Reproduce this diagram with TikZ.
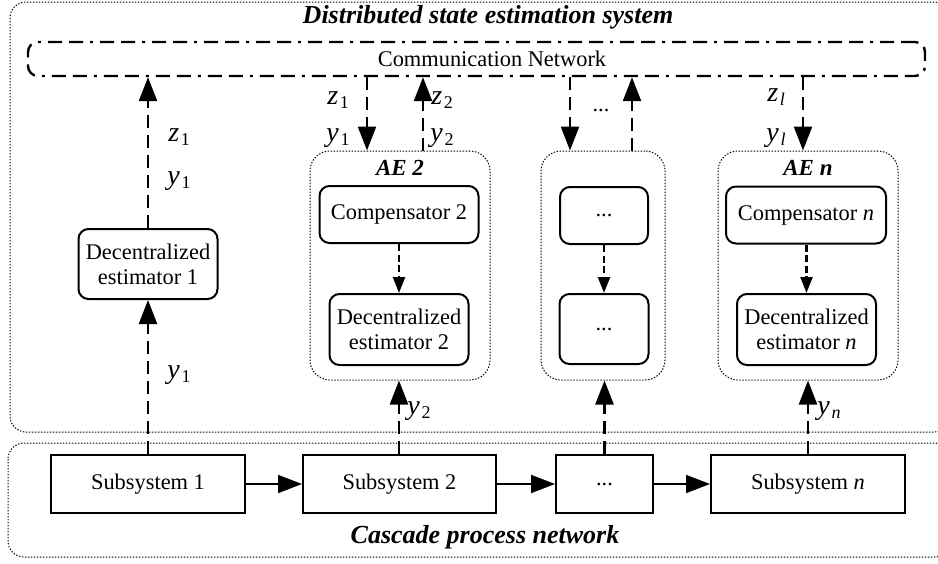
\documentclass[tikz,border=0pt]{standalone}
\usepackage{fontspec}
\setmainfont{Liberation Serif}
\usetikzlibrary{arrows.meta}
\newcommand{\lbl}[2]{{\fontsize{14}{16}\selectfont\itshape #1}\kern0.8pt\raisebox{-0.45ex}{\fontsize{9}{10}\selectfont #2}}
\begin{document}
\begin{tikzpicture}[x=0.5pt,y=-0.5pt,
  txt/.style={font=\fontsize{11.2}{12.6}\selectfont},
  blk/.style={draw,line width=1pt,rounded corners=5pt,align=center,inner sep=1pt,txt},
  subb/.style={draw,line width=1pt,align=center,inner sep=1pt,txt},
  cont/.style={draw,line width=0.5pt,dash pattern=on 0.7pt off 0.8pt,rounded corners=10pt,inner sep=0pt},
  ttl/.style={font=\fontsize{13}{15}\selectfont\bfseries\itshape},
  aet/.style={font=\fontsize{11.5}{13}\selectfont\bfseries\itshape},
  darrow/.style={line width=1.2pt,dash pattern=on 6.5pt off 3.5pt,-{Triangle[length=12pt,width=9pt]}},
  sarrow/.style={line width=1.2pt,dash pattern=on 3.5pt off 1.8pt,-{Triangle[length=8pt,width=6pt]}},
  harrow/.style={line width=1pt,-{Triangle[length=12pt,width=9pt]}},
  lab/.style={inner sep=0pt}]
\useasboundingbox (0,0) rectangle (938,563);
\clip (0,0) rectangle (938,563);
% outer containers
\draw[cont,rounded corners=8pt] (10,2) rectangle (950,432);
\draw[cont,rounded corners=8pt] (8,443) rectangle (950,557);
\node[ttl] (t1) at (488,17) {Distributed state estimation system};
\node[ttl] (t2) at (485,537) {Cascade process network};
% communication network
\node[draw,line width=1.2pt,rounded corners=5pt,dash pattern=on 7pt off 3.5pt on 7pt off 3.5pt on 1.5pt off 3.5pt,
  minimum width=448.5pt,minimum height=17pt,inner sep=0pt] (cn) at (476.5,59) {};
\node[txt] (cnt) at (492,59) {Communication Network};
% AE containers
\node[cont,minimum width=90pt,minimum height=114.5pt] (ae2) at (400,265.5) {};
\node[cont,minimum width=62pt,minimum height=114.5pt] (ae3) at (603,265.5) {};
\node[cont,minimum width=90pt,minimum height=114.5pt] (aen) at (808,265.5) {};
\node[aet] (ae2t) at (400,168) {AE 2};
\node[aet] (aent) at (808,168) {AE \textit{n}};
% estimator 1
\node[blk,minimum width=69.5pt,minimum height=35pt] (e1) at (148,264) {Decentralized\\estimator 1};
% column 2
\node[blk,minimum width=79.5pt,minimum height=28.5pt] (c2) at (399,214.5) {Compensator 2};
\node[blk,minimum width=69.5pt,minimum height=35.5pt] (d2) at (399,329.5) {Decentralized\\estimator 2};
% column 3
\node[blk,minimum width=44pt,minimum height=28.5pt] (c3) at (604,215.5) {...};
\node[blk,minimum width=44.5pt,minimum height=35pt] (d3) at (604,329) {...};
% column n
\node[blk,minimum width=80pt,minimum height=28.5pt] (cn2) at (806,215) {Compensator \textit{n}};
\node[blk,minimum width=69.5pt,minimum height=35.5pt] (dn) at (806.5,329.5) {Decentralized\\estimator \textit{n}};
% subsystems
\node[subb,minimum width=97pt,minimum height=29pt] (s1) at (148,484) {Subsystem 1};
\node[subb,minimum width=96.5pt,minimum height=29pt] (s2) at (399.5,484) {Subsystem 2};
\node[subb,minimum width=48.5pt,minimum height=29pt] (s3) at (604.5,484) {...};
\node[subb,minimum width=97pt,minimum height=29pt] (sn) at (808,484) {Subsystem \textit{n}};
% horizontal arrows
\draw[harrow] (s1.east) -- (s2.west);
\draw[harrow] (s2.east) -- (s3.west);
\draw[harrow] (s3.east) -- (sn.west);
% column 1 arrows
\draw[darrow] (s1.north) -- (e1.south);
\draw[darrow] (e1.north) -- (e1.north |- cn.south);
% column 2
\coordinate (x2d) at (367,0);
\coordinate (x2u) at (423,0);
\draw[darrow] (x2d |- cn.south) -- (x2d |- ae2.north);
\draw[darrow] (x2u |- ae2.north) -- (x2u |- cn.south);
\draw[sarrow] (c2.south) -- (d2.north);
\draw[darrow] (s2.north -| d2.south) -- (d2.south |- ae2.south);
% column 3
\coordinate (x3d) at (570,0);
\coordinate (x3u) at (632,0);
\draw[darrow] (x3d |- cn.south) -- (x3d |- ae3.north);
\draw[darrow] (x3u |- ae3.north) -- (x3u |- cn.south);
\draw[sarrow] (c3.south) -- (d3.north);
\draw[darrow] (s3.north) -- (s3.north |- ae3.south);
% column n
\coordinate (xnd) at (803,0);
\draw[darrow] (xnd |- cn.south) -- (xnd |- aen.north);
\draw[sarrow] (cn2.south -| dn.north) -- (dn.north);
\draw[darrow] (sn.north) -- (sn.north |- aen.south);
% labels
\node[lab] (l1) at (179,137) {\lbl{z}{1}};
\node[lab] (l2) at (179,181) {\lbl{y}{1}};
\node[lab] (l3) at (179,375) {\lbl{y}{1}};
\node[lab] (l4) at (338,100) {\lbl{z}{1}};
\node[lab] (l5) at (338,138) {\lbl{y}{1}};
\node[lab] (l6) at (442,100) {\lbl{z}{2}};
\node[lab] (l7) at (442,138) {\lbl{y}{2}};
\node[txt] (l8) at (601,110) {...};
\node[lab] (l9) at (776,97) {\lbl{z}{\textit{l}}};
\node[lab] (l10) at (776,138) {\lbl{y}{\textit{l}}};
\node[lab] (l11) at (419,411) {\lbl{y}{2}};
\node[lab] (l12) at (829,411) {\lbl{y}{\textit{n}}};
\end{tikzpicture}
\end{document}
